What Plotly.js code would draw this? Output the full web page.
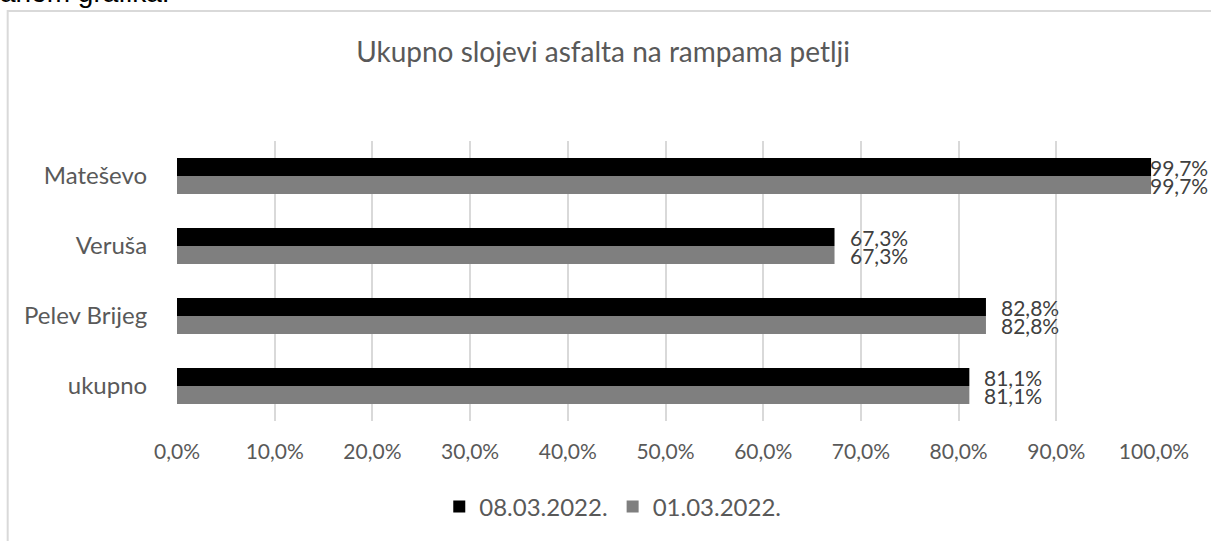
<!DOCTYPE html>
<html>
<head>
<meta charset="utf-8">
<script src="https://cdn.plot.ly/plotly-3.0.1.min.js"></script>
<style>html,body{margin:0;padding:0;background:#fff;}#chart{width:1211px;height:541px;}</style>
</head>
<body>
<div id="chart"></div>
<script>
var categories = ["Mateševo", "Veruša", "Pelev Brijeg", "ukupno"];
var series1Name = "08.03.2022.";
var series1Values = [0.997, 0.673, 0.828, 0.811];
var series2Name = "01.03.2022.";
var series2Values = [0.997, 0.673, 0.828, 0.811];
var xTickValues = [0, 0.1, 0.2, 0.3, 0.4, 0.5, 0.6, 0.7, 0.8, 0.9, 1.0];
var chartTitle = "Ukupno slojevi asfalta na rampama petlji";
var topText = "anom grafika.";

var FONT = "Lato, 'Open Sans', sans-serif";
var TXT = "#595959";

var traces = [
  {type: "bar", orientation: "h", name: series1Name, y: categories, x: series1Values,
   marker: {color: "#000000"}, hoverinfo: "skip"},
  {type: "bar", orientation: "h", name: series2Name, y: categories, x: series2Values,
   marker: {color: "#7f7f7f"}, hoverinfo: "skip"}
];

function fmt(v) { return (v * 100).toFixed(1).replace(".", ",") + "%"; }

var annotations = [];
[series1Values, series2Values].forEach(function (vals, si) {
  vals.forEach(function (v, i) {
    annotations.push({
      x: v, y: categories[i], xref: "x", yref: "y",
      text: fmt(v), showarrow: false, xanchor: "left", yanchor: "middle",
      xshift: v > 0.95 ? -3 : 13, yshift: si === 0 ? 9 : -9,
      font: {family: FONT, size: 21, color: "#404040"}
    });
  });
});
annotations.push({
  x: -0.0054, y: 1.469, xref: "paper", yref: "paper", text: topText, showarrow: false,
  xanchor: "right", yanchor: "bottom", font: {family: "'Liberation Sans', Arial, sans-serif", size: 28, color: "#000000"}
});

var layout = {
  width: 1211, height: 541,
  margin: {l: 177, r: 57, t: 141, b: 120, pad: 0},
  paper_bgcolor: "#ffffff", plot_bgcolor: "#ffffff",
  separators: ",.",
  title: {text: chartTitle, x: 0.498, xref: "container", y: 1 - 52 / 541, yref: "container", yanchor: "middle",
          font: {family: FONT, size: 28, color: TXT}},
  barmode: "group", bargap: 0.486, bargroupgap: 0,
  xaxis: {range: [0, 1], tickvals: xTickValues, tickformat: ".1%", showgrid: true,
          gridcolor: "#d9d9d9", gridwidth: 2, zeroline: false, showline: false,
          ticks: "outside", ticklen: 12, tickcolor: "rgba(0,0,0,0)",
          tickfont: {family: FONT, size: 21, color: TXT}, fixedrange: true},
  yaxis: {type: "category", autorange: "reversed", showgrid: false, zeroline: false, showline: false,
          ticks: "outside", ticklen: 24, tickcolor: "rgba(0,0,0,0)",
          tickfont: {family: FONT, size: 24, color: TXT}, fixedrange: true},
  showlegend: true,
  legend: {orientation: "h", x: 0.506, xref: "container", xanchor: "center", y: 1 - 507 / 541, yref: "container", yanchor: "middle",
           font: {family: FONT, size: 24, color: TXT}, traceorder: "normal", itemclick: false, itemdoubleclick: false},
  shapes: [{type: "rect", xref: "paper", yref: "paper", x0: -0.1733, x1: 1.2, y0: -1, y1: 1.4643,
            line: {color: "#d9d9d9", width: 2}, fillcolor: "rgba(0,0,0,0)", layer: "below"}],
  annotations: annotations,
  hovermode: false
};

Plotly.newPlot("chart", traces, layout, {displayModeBar: false, staticPlot: true});
</script>
</body>
</html>
